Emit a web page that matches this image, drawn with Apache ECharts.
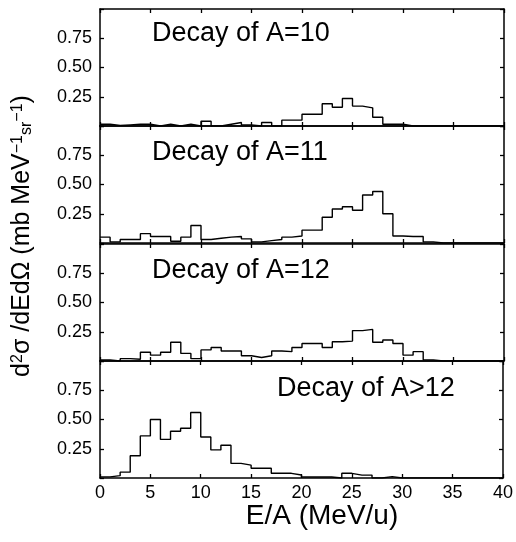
<!DOCTYPE html>
<html lang="en">
<head>
    <meta charset="UTF-8">
    <title>index</title>
    <script src="https://cdn.jsdelivr.net/npm/echarts@6/dist/echarts.min.js"></script>
    <style>
        html,body{margin:0;padding:0;background:#fff;}
        #main{width:516px;height:542px;}
    </style>
</head>
<body>
<div id="main"></div>
<script>
    // bin edges in MeV/u (1 MeV/u bins)
    var binEdges = [0,1,2,3,4,5,6,7,8,9,10,11,12,13,14,15,16,17,18,19,20,
                    21,22,23,24,25,26,27,28,29,30,31,32,33,34,35,36,37,38,39,40];
    var panelNames = ['Decay of A=10', 'Decay of A=11', 'Decay of A=12', 'Decay of A>12'];
    var yTicks = [0.25, 0.50, 0.75];
    var xTicks = [0, 5, 10, 15, 20, 25, 30, 35, 40];

    var decayA10 = [0.015,0.005,0.01,0.015,0.015,0,0.015,0,0.015,0,
                    0.04,0,0.015,0.03,0.01,0,0.03,0,0.05,0.05,
                    0.10,0.10,0.19,0.16,0.235,0.17,0.155,0.075,0.015,0.015,
                    0,0,0,0,0,0,0,0,0,0];
    var decayA11 = [0.05,0.01,0.03,0.03,0.08,0.056,0.056,0.015,0.05,0.15,
                    0.03,0.04,0.05,0.055,0.035,0.01,0.02,0.03,0.05,0.06,
                    0.11,0.11,0.22,0.29,0.31,0.28,0.41,0.44,0.25,0.06,
                    0.056,0.056,0.01,0,0,0,0,0,0,0];
    var decayA12 = [0.01,0,0.02,0.015,0.075,0.05,0.075,0.16,0.065,0.02,
                    0.095,0.115,0.085,0.085,0.045,0.03,0.045,0.085,0.08,0.115,
                    0.15,0.15,0.115,0.165,0.17,0.26,0.27,0.16,0.18,0.15,
                    0.05,0.08,0.01,0,0,0,0,0,0,0];
    var decayAgt12 = [0.01,0.02,0.05,0.19,0.36,0.50,0.33,0.40,0.425,0.56,
                      0.35,0.24,0.28,0.125,0.11,0.083,0.083,0.04,0.04,0.026,
                      0.008,0.008,0.008,0,0.04,0.025,0.025,0,0.012,0,
                      0,0,0,0,0,0,0,0,0,0];

    var panels = [decayA10, decayA11, decayA12, decayAgt12];
    var font = 'Liberation Sans, Arial, Helvetica, sans-serif';
    var gridTop = [9, 126, 244, 361];
    var gridH = 117;
    // where the panel captions sit (left x, centre y)
    var capPos = [[152, 33], [152, 152], [152, 270], [277, 388]];

    var grids = [], xAxes = [], yAxes = [], series = [], graphics = [];

    panels.forEach(function (vals, k) {
        grids.push({left: 100, right: 12, top: gridTop[k], height: gridH});
        var tick = {show: true, inside: true, length: 4, lineStyle: {color: '#000', width: 1.3}};
        var line = {show: true, onZero: false, lineStyle: {color: '#000', width: 1.5}};
        xAxes.push({
            type: 'value', gridIndex: k, min: 0, max: 40, interval: 5,
            axisLine: line, axisTick: tick, splitLine: {show: false},
            axisLabel: {show: k === 3, color: '#000', fontSize: 18, fontFamily: font, margin: 6,
                formatter: function (v) { return xTicks.indexOf(v) >= 0 ? String(v) : ''; }}
        });
        xAxes.push({
            type: 'value', gridIndex: k, position: 'top', min: 0, max: 40, interval: 5,
            axisLine: line, axisTick: tick, splitLine: {show: false}, axisLabel: {show: false}
        });
        yAxes.push({
            type: 'value', gridIndex: k, min: 0, max: 1, interval: 0.25,
            axisLine: line, axisTick: tick, splitLine: {show: false},
            axisLabel: {color: '#000', fontSize: 18, fontFamily: font, margin: 8,
                formatter: function (v) {
                    return yTicks.indexOf(v) >= 0 ? v.toFixed(2) : '';
                }}
        });
        yAxes.push({
            type: 'value', gridIndex: k, position: 'right', min: 0, max: 1, interval: 0.25,
            axisLine: line, axisTick: tick, splitLine: {show: false}, axisLabel: {show: false}
        });

        // histogram outline: each bin drawn flat from its left to its right edge
        var data = [];
        vals.forEach(function (v, i) {
            data.push([binEdges[i], v]);
            data.push([binEdges[i + 1], v]);
        });
        series.push({
            type: 'line', xAxisIndex: 2 * k, yAxisIndex: 2 * k,
            data: data, showSymbol: false, symbol: 'none', silent: true,
            lineStyle: {color: '#000', width: 1.4}
        });

        graphics.push({
            type: 'text', x: capPos[k][0], y: capPos[k][1] + 1,
            style: {text: panelNames[k], fill: '#000', font: '27px ' + font,
                    textAlign: 'left', textVerticalAlign: 'middle'}
        });
    });

    // axis titles
    graphics.push({
        type: 'text', x: 322, y: 516,
        style: {text: 'E/A (MeV/u)', fill: '#000', font: '28px ' + font,
                textAlign: 'center', textVerticalAlign: 'middle'}
    });
    graphics.push({
        type: 'text', x: 22, y: 236, rotation: Math.PI / 2,
        style: {
            text: '{n|d}{sup|2}{n|σ /dEdΩ (mb MeV}{sup|−1}{sub|sr}{sup|−1}{n|)}',
            fill: '#000', textAlign: 'center', textVerticalAlign: 'middle',
            rich: {
                n: {fontSize: 25, fontFamily: font, fill: '#000', verticalAlign: 'bottom'},
                sup: {fontSize: 16, fontFamily: font, fill: '#000', verticalAlign: 'top'},
                sub: {fontSize: 16, fontFamily: font, fill: '#000', verticalAlign: 'bottom'}
            }
        }
    });

    var chart = echarts.init(document.getElementById('main'));
    chart.setOption({
        animation: false,
        backgroundColor: '#fff',
        textStyle: {fontFamily: font, color: '#000'},
        grid: grids,
        xAxis: xAxes,
        yAxis: yAxes,
        series: series,
        graphic: graphics
    });
</script>
</body>
</html>
